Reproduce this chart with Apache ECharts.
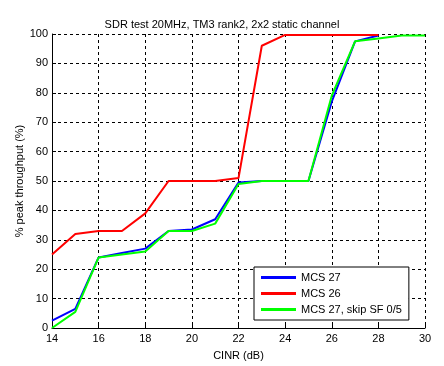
<!DOCTYPE html>
<html>
<head>
<meta charset="utf-8">
<script src="https://cdn.jsdelivr.net/npm/echarts@6/dist/echarts.min.js"></script>
<style>html,body{margin:0;padding:0;background:#fff;}#c{width:444px;height:366px;}</style>
</head>
<body>
<div id="c"></div>
<script>
var cinr = [14, 15, 16, 17, 18, 19, 20, 21, 22, 23, 24, 25, 26, 27, 28];
var cinrSkip = [14, 15, 16, 17, 18, 19, 20, 21, 22, 23, 24, 25, 26, 27, 28, 29, 30];
var mcs27 = [2.5, 6.5, 24, 25.5, 27, 33, 33.5, 37, 49.5, 50, 50, 50, 77, 97.5, 99.5];
var mcs26 = [25, 32, 33, 33, 39, 50, 50, 50, 51, 96, 99.7, 99.7, 99.7, 99.7, 99.7];
var mcs27skip = [0, 5.5, 24, 25, 26, 33, 33, 35.5, 49, 50, 50, 50, 79, 97.5, 98.5, 99.5, 99.5];
var xTicks = [14, 16, 18, 20, 22, 24, 26, 28, 30];
var yTicks = [0, 10, 20, 30, 40, 50, 60, 70, 80, 90, 100];

function pairs(xs, ys) { return xs.map(function (x, i) { return [x, ys[i]]; }); }

var font = '"Liberation Sans", Arial, sans-serif';
var chart = echarts.init(document.getElementById('c'), null, {renderer: 'canvas'});
chart.setOption({
  backgroundColor: '#ffffff',
  animation: false,
  title: {
    text: 'SDR test 20MHz, TM3 rank2, 2x2 static channel',
    left: 'center', top: 14,
    textStyle: {fontFamily: font, fontSize: 11, fontWeight: 'normal', color: '#000'}
  },
  grid: {left: 52, right: 19, top: 34, bottom: 38},
  legend: {
    orient: 'vertical', left: 254, top: 267,
    padding: [4, 7, 4, 7], itemGap: 3, itemWidth: 35, itemHeight: 3,
    icon: 'rect',
    borderColor: '#000', borderWidth: 1, backgroundColor: '#fff',
    textStyle: {fontFamily: font, fontSize: 11, color: '#000', lineHeight: 13},
    data: ['MCS 27', 'MCS 26', 'MCS 27, skip SF 0/5']
  },
  xAxis: {
    type: 'value', min: xTicks[0], max: xTicks[xTicks.length - 1], interval: 2,
    name: 'CINR (dB)', nameLocation: 'middle', nameGap: 22,
    nameTextStyle: {fontFamily: font, fontSize: 11, color: '#000'},
    axisLine: {show: true, onZero: false, lineStyle: {color: '#000', width: 1}},
    axisTick: {show: true, inside: true, length: 4, lineStyle: {color: '#000'}},
    axisLabel: {fontFamily: font, fontSize: 11, color: '#000', margin: 5},
    splitLine: {show: true, lineStyle: {color: '#000', type: [3, 3], width: 1}}
  },
  yAxis: {
    type: 'value', min: yTicks[0], max: yTicks[yTicks.length - 1], interval: 10,
    name: '% peak throughput (%)', nameLocation: 'middle', nameGap: 27,
    nameMoveOverlap: false,
    nameTextStyle: {fontFamily: font, fontSize: 11, color: '#000'},
    axisLine: {show: true, onZero: false, lineStyle: {color: '#000', width: 1}},
    axisTick: {show: true, inside: true, length: 4, lineStyle: {color: '#000'}},
    axisLabel: {fontFamily: font, fontSize: 11, color: '#000', margin: 4},
    splitLine: {show: true, lineStyle: {color: '#000', type: [3, 3], width: 1}}
  },
  series: [
    {name: 'MCS 27', type: 'line', data: pairs(cinr, mcs27), symbol: 'none',
     lineStyle: {color: '#0000ff', width: 2}, itemStyle: {color: '#0000ff'}},
    {name: 'MCS 26', type: 'line', data: pairs(cinr, mcs26), symbol: 'none',
     lineStyle: {color: '#ff0000', width: 2}, itemStyle: {color: '#ff0000'}},
    {name: 'MCS 27, skip SF 0/5', type: 'line', data: pairs(cinrSkip, mcs27skip), symbol: 'none',
     lineStyle: {color: '#00ff00', width: 2}, itemStyle: {color: '#00ff00'}}
  ]
});
</script>
</body>
</html>
